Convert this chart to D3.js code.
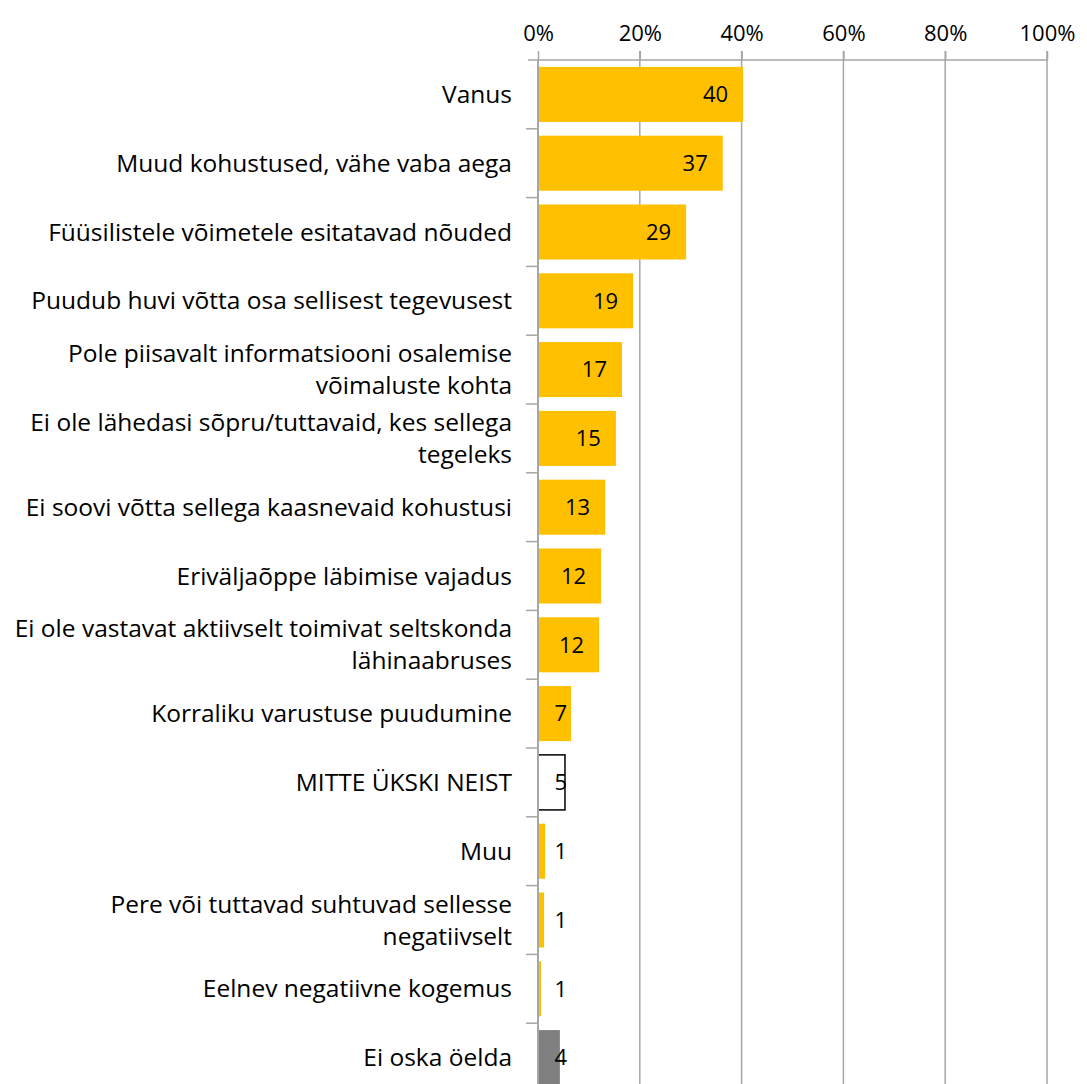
<!DOCTYPE html>
<html>
<head>
<meta charset="utf-8">
<script src="https://cdn.jsdelivr.net/npm/d3@7"></script>
<style>
  body { margin: 0; background: #fff; }
  text { font-family: "Open Sans", sans-serif; fill: #000; }
</style>
</head>
<body>
<script>
var width = 1087, height = 1084;
var margin = {top: 60, left: 538, right: 40};

// categories (line breaks as in the original chart)
var categories = [
  "Vanus",
  "Muud kohustused, vähe vaba aega",
  "Füüsilistele võimetele esitatavad nõuded",
  "Puudub huvi võtta osa sellisest tegevusest",
  "Pole piisavalt informatsiooni osalemise\nvõimaluste kohta",
  "Ei ole lähedasi sõpru/tuttavaid, kes sellega\ntegeleks",
  "Ei soovi võtta sellega kaasnevaid kohustusi",
  "Eriväljaõppe läbimise vajadus",
  "Ei ole vastavat aktiivselt toimivat seltskonda\nlähinaabruses",
  "Korraliku varustuse puudumine",
  "MITTE ÜKSKI NEIST",
  "Muu",
  "Pere või tuttavad suhtuvad sellesse\nnegatiivselt",
  "Eelnev negatiivne kogemus",
  "Ei oska öelda"
];
var values = [40.3, 36.3, 29.1, 18.7, 16.5, 15.3, 13.2, 12.4, 12.0, 6.5, 5.3, 1.4, 1.2, 0.6, 4.3];
var labels = ["40", "37", "29", "19", "17", "15", "13", "12", "12", "7", "5", "1", "1", "1", "4"];
// bar style kinds: normal, none-of-these, don't know
var kinds = ["n","n","n","n","n","n","n","n","n","n","none","n","n","n","dk"];
var ticks = [0, 20, 40, 60, 80, 100];

var bandH = 68.8;

var svg = d3.select("body").append("svg")
    .attr("width", width)
    .attr("height", height);

var x = d3.scaleLinear().domain([0, 100]).range([margin.left, 1047]);
var y = d3.scaleBand()
    .domain(d3.range(categories.length))
    .range([margin.top, margin.top + bandH * categories.length])
    .paddingInner(0.2)
    .paddingOuter(0.1);

var gridColor = "#a6a6a6";

// vertical gridlines
svg.append("g").selectAll("line")
  .data(ticks.slice(1))
  .enter().append("line")
  .attr("x1", function(d){ return x(d); })
  .attr("x2", function(d){ return x(d); })
  .attr("y1", margin.top - 9)
  .attr("y2", height + 20)
  .attr("stroke", gridColor)
  .attr("stroke-width", 1.5);

// top axis
var xAxis = d3.axisTop(x)
  .tickValues(ticks)
  .tickFormat(function(d){ return d + "%"; })
  .tickSize(9)
  .tickPadding(10);

var gx = svg.append("g")
  .attr("transform", "translate(0," + margin.top + ")")
  .call(xAxis);
gx.select(".domain").remove();
gx.selectAll(".tick line").attr("stroke", gridColor).attr("stroke-width", 1.5);
gx.selectAll(".tick text")
  .style("font-family", "Open Sans, sans-serif")
  .attr("font-size", 22)
  .attr("fill", "#000");
svg.append("line")
  .attr("x1", margin.left - 10).attr("x2", x(100))
  .attr("y1", margin.top).attr("y2", margin.top)
  .attr("stroke", gridColor).attr("stroke-width", 1.5);

// bars
function barFill(k){ return k == "dk" ? "#808080" : (k == "none" ? "#ffffff" : "#ffc000"); }

svg.append("g").selectAll("rect")
  .data(values)
  .enter().append("rect")
  .attr("x", x(0))
  .attr("y", function(d, i){ return y(i); })
  .attr("width", function(d){ return x(d) - x(0); })
  .attr("height", y.bandwidth())
  .attr("fill", function(d, i){ return barFill(kinds[i]); })
  .attr("stroke", function(d, i){ return kinds[i] == "none" ? "#000" : "none"; })
  .attr("stroke-width", 1.5);

// left axis line with category separator ticks
svg.append("line")
  .attr("x1", x(0)).attr("x2", x(0))
  .attr("y1", margin.top).attr("y2", height + 20)
  .attr("stroke", gridColor).attr("stroke-width", 2);

svg.append("g").selectAll("line")
  .data(d3.range(1, categories.length))
  .enter().append("line")
  .attr("x1", x(0) - 12).attr("x2", x(0))
  .attr("y1", function(d){ return margin.top + d * bandH; })
  .attr("y2", function(d){ return margin.top + d * bandH; })
  .attr("stroke", gridColor).attr("stroke-width", 1.5);

// category labels
var lineH = 32;
var catText = svg.append("g").selectAll("text")
  .data(categories)
  .enter().append("text")
  .attr("text-anchor", "end")
  .attr("font-size", 24.5)
  .attr("transform", function(d, i){ return "translate(512," + (y(i) + y.bandwidth() / 2) + ")"; });

catText.each(function(d){
  var parts = d.split("\n");
  var t = d3.select(this);
  parts.forEach(function(p, j){
    t.append("tspan")
      .attr("x", 0)
      .attr("y", (j - (parts.length - 1) / 2) * lineH)
      .attr("dy", "0.35em")
      .text(p);
  });
});

// value labels
svg.append("g").selectAll("text")
  .data(values)
  .enter().append("text")
  .attr("text-anchor", "end")
  .attr("font-size", 22)
  .attr("x", function(d){ return Math.max(x(d) - 15, 567); })
  .attr("y", function(d, i){ return y(i) + y.bandwidth() / 2; })
  .attr("dy", "0.35em")
  .text(function(d, i){ return labels[i]; });
</script>
</body>
</html>
